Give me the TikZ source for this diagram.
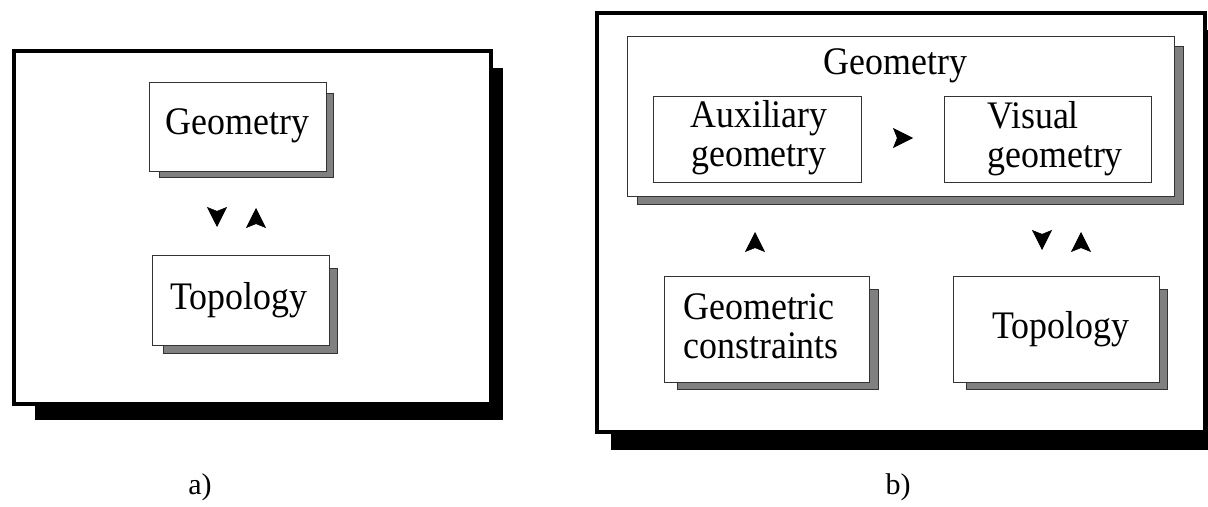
\documentclass[tikz,border=0pt]{standalone}
\usepackage{fontspec}
\setmainfont{Liberation Serif}
\usetikzlibrary{arrows.meta}
\definecolor{shadowgray}{HTML}{808080}
\begin{document}
\begin{tikzpicture}[x=0.5pt,y=-0.5pt,
  outerbox/.style={draw=black, line width=2pt, fill=white, inner sep=0pt},
  outershadow/.style={fill=black},
  innerbox/.style={draw=black!80, line width=0.5pt, fill=white, inner sep=0pt},
  innershadow/.style={fill=shadowgray, draw=black!80, line width=0.5pt},
  txt/.style={font=\fontsize{19.5}{19.5}\selectfont, inner sep=0pt, xscale=0.92, transform shape},
  lbl/.style={font=\fontsize{15}{17}\selectfont, inner sep=0pt},
  tipline/.style={draw=white, line width=0.3pt,
    -{Stealth[length=10pt,width=10pt,inset=2pt,color=black]}}]
\useasboundingbox (0,0) rectangle (1208,507);

% ---------------- panel a ----------------
\fill[outershadow] (35,68) rectangle (503,420);
\node[outerbox, minimum width=238.5pt, minimum height=176.5pt] (pa) at (252.5,227.5) {};

\draw[innershadow] (159,94) rectangle (333,178);
\node[innerbox, minimum width=88.5pt, minimum height=44.5pt] (ageo) at (237.5,127.5) {};
\node[txt, anchor=base] (ageot) at (237.5,135) {Geometry};

\draw[innershadow] (163,269) rectangle (337,353);
\node[innerbox, minimum width=88.5pt, minimum height=44.5pt] (atop) at (240.5,300.5) {};
\node[txt, anchor=base] (atopt) at (239,309) {Topology};

\coordinate (a1s) at (217,207); \coordinate (a1e) at (217,227);
\coordinate (a2s) at (256,228); \coordinate (a2e) at (256,208);
\draw[tipline] (a1s) -- (a1e);
\draw[tipline] (a2s) -- (a2e);

\node[lbl, anchor=base] (la) at (200,494) {a)};

% ---------------- panel b ----------------
\fill[outershadow] (611,30) rectangle (1218,450);
\node[outerbox, minimum width=304pt, minimum height=209.5pt] (pb) at (901,222.5) {};

\draw[innershadow] (637,47) rectangle (1183,205);
\node[innerbox, minimum width=273.5pt, minimum height=80pt] (bgeo) at (900.5,117) {};
\node[txt, anchor=base] (bgeot) at (895.5,75) {Geometry};

\node[innerbox, minimum width=104pt, minimum height=43pt] (aux) at (757,140) {};
\node[txt, anchor=base, align=center] (auxt) at (759,167) {Auxiliary\\geometry};

\node[innerbox, minimum width=103.5pt, minimum height=43pt] (vis) at (1047.5,140) {};
\node[txt, anchor=base west, align=left] (vist) at (987,168) {Visual\\geometry};

\draw[innershadow] (677,290) rectangle (878,389);
\node[innerbox, minimum width=102.5pt, minimum height=52.5pt] (gc) at (766.5,329.5) {};
\node[txt, anchor=base west, align=left] (gct) at (683,358) {Geometric\\constraints};

\draw[innershadow] (966,290) rectangle (1167,389);
\node[innerbox, minimum width=103pt, minimum height=52.5pt] (btop) at (1056,329.5) {};
\node[txt, anchor=base] (btopt) at (1060.5,338) {Topology};

\coordinate (b1s) at (893,138); \coordinate (b1e) at (913,138);
\coordinate (b2s) at (755,251); \coordinate (b2e) at (755,232);
\coordinate (b3s) at (1042,230); \coordinate (b3e) at (1042,250);
\coordinate (b4s) at (1081,251); \coordinate (b4e) at (1081,232);
\draw[tipline] (b1s) -- (b1e);
\draw[tipline] (b2s) -- (b2e);
\draw[tipline] (b3s) -- (b3e);
\draw[tipline] (b4s) -- (b4e);

\node[lbl, anchor=base] (lb) at (898,494) {b)};
\end{tikzpicture}
\end{document}
